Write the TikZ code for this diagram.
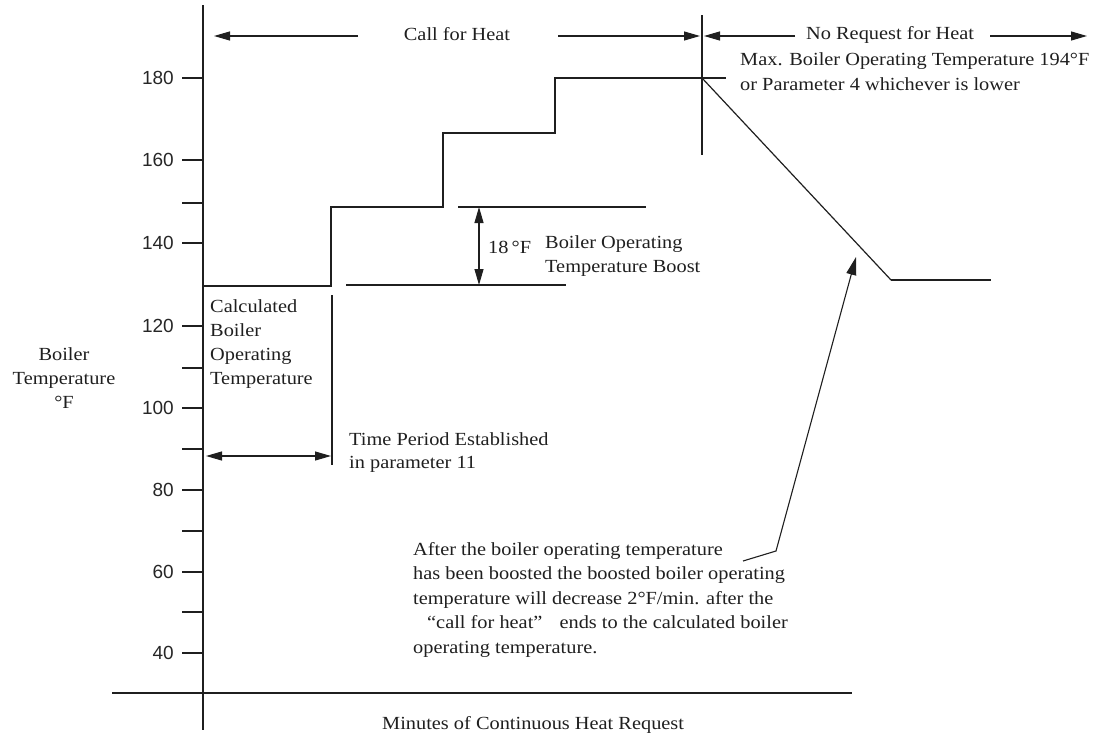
\documentclass[tikz,border=0pt]{standalone}
\usepackage{fontspec}
\setmainfont{Liberation Serif}[FakeStretch=1.1]
\setsansfont{Liberation Sans}
\usetikzlibrary{arrows.meta}
\tikzset{
  ink/.style={draw=black!88},
  axisline/.style={ink, line width=1.8pt},
  curveline/.style={ink, line width=2pt, line join=miter},
  fineline/.style={ink, line width=1.1pt},
  tickline/.style={ink, line width=1.8pt},
  arr/.style={fineline, -{Triangle[length=16pt,width=9pt]}},
  darr/.style={fineline, {Triangle[length=16pt,width=9pt]}-{Triangle[length=16pt,width=9pt]}},
  lbl/.style={inner sep=0pt, font=\fontsize{18.5}{24}\selectfont, text=black!88},
  num/.style={inner sep=0pt, anchor=east, font=\sffamily\fontsize{19}{22}\selectfont, text=black!85},
}
\begin{document}
\begin{tikzpicture}[x=1pt,y=-1pt]
\useasboundingbox (0,0) rectangle (1102,736);
% axes
\coordinate (ytop) at (203,5);
\coordinate (ybot) at (203,730);
\coordinate (xl) at (112,693);
\coordinate (xr) at (852,693);
\draw[axisline] (ytop) -- (ybot);
\draw[axisline] (xl) -- (xr);
% ticks and labels
\foreach \v/\yy in {180/78,160/160,140/243,120/326,100/408,80/490,60/572,40/653}{
  \coordinate (t\v) at (182,\yy);
  \draw[tickline] (t\v) -- (203,\yy);
  \node[num] (n\v) at (174,\yy) {\v};
}
\foreach \v/\yy in {150/203,110/368,90/449,70/531,50/612}{
  \coordinate (t\v) at (182,\yy);
  \draw[tickline] (t\v) -- (203,\yy);
}
% step curve
\coordinate (s0) at (203,286);
\coordinate (s1) at (331,286);
\coordinate (s2) at (331,207);
\coordinate (s3) at (443,207);
\coordinate (s4) at (443,133);
\coordinate (s5) at (555,133);
\coordinate (s6) at (555,78);
\coordinate (s7) at (726,78);
\draw[curveline] (s0) -- (s1) -- (s2) -- (s3) -- (s4) -- (s5) -- (s6) -- (s7);
% decay
\coordinate (d0) at (702,78);
\coordinate (d1) at (891,280);
\coordinate (d2) at (991,280);
\draw[fineline, line width=1.2pt] (d0) -- (d1);
\draw[curveline, line width=1.6pt] (d1) -- (d2);
% divider
\coordinate (v0) at (702,15);
\coordinate (v1) at (702,155);
\draw[fineline] (v0) -- (v1);
% time marker
\coordinate (m0) at (332,295);
\coordinate (m1) at (332,465);
\draw[fineline] (m0) -- (m1);
% boost lines
\coordinate (b0) at (458,207);
\coordinate (b1) at (646,207);
\coordinate (b2) at (346,285);
\coordinate (b3) at (566,285);
\draw[fineline] (b0) -- (b1);
\draw[fineline] (b2) -- (b3);
\coordinate (ba) at (479,207);
\coordinate (bb) at (479,285);
\draw[darr] (ba) -- (bb);
% time arrow
\coordinate (ta) at (206,456);
\coordinate (tb) at (331,456);
\draw[darr] (ta) -- (tb);
% top arrows
\coordinate (a0) at (358,36);
\coordinate (a1) at (214,36);
\coordinate (a2) at (558,36);
\coordinate (a3) at (700,36);
\coordinate (a4) at (795,36);
\coordinate (a5) at (704,36);
\coordinate (a6) at (990,36);
\coordinate (a7) at (1087,36);
\draw[arr] (a0) -- (a1);
\draw[arr] (a2) -- (a3);
\draw[arr] (a4) -- (a5);
\draw[arr] (a6) -- (a7);
% annotation leader
\coordinate (l0) at (743,561);
\coordinate (l1) at (776,551);
\coordinate (l2) at (856,257);
\draw[fineline, -{Triangle[length=18pt,width=10pt]}] (l0) -- (l1) -- (l2);
% texts
\node[lbl, anchor=base] (call) at (457,40) {Call for Heat};
\node[lbl, anchor=base west] (noreq) at (806,39) {No Request for Heat};
\node[lbl, anchor=base west, font=\fontsize{18.5}{25}\selectfont] (maxt) at (740,65)
  {\begin{tabular}[t]{@{}l@{}}Max. Boiler Operating Temperature 194°F\\or Parameter 4 whichever is lower\end{tabular}};
\node[lbl, anchor=base west] (calc) at (210,312)
  {\begin{tabular}[t]{@{}l@{}}Calculated\\Boiler\\Operating\\Temperature\end{tabular}};
\node[lbl, anchor=base] (ylab) at (64,360)
  {\begin{tabular}[t]{@{}c@{}}Boiler\\Temperature\\°F\end{tabular}};
\node[lbl, anchor=base west, font=\fontsize{18.5}{23}\selectfont] (tper) at (349,445)
  {\begin{tabular}[t]{@{}l@{}}Time Period Established\\in parameter 11\end{tabular}};
\node[lbl, anchor=base west] (eighteen) at (488,253) {18\,°F};
\node[lbl, anchor=base west] (boost) at (545,248)
  {\begin{tabular}[t]{@{}l@{}}Boiler Operating\\Temperature Boost\end{tabular}};
\node[lbl, anchor=base west, font=\fontsize{18.5}{24.5}\selectfont] (para) at (413,555)
  {\begin{tabular}[t]{@{}l@{}}After the boiler operating temperature\\
   has been boosted the boosted boiler operating\\
   temperature will decrease 2°F/min. after the\\
   \hspace{14pt}“call for heat”\hspace{12pt} ends to the calculated boiler\\
   operating temperature.\end{tabular}};
\node[lbl, anchor=base west] (xlab) at (382,729) {Minutes of Continuous Heat Request};
\end{tikzpicture}
\end{document}
